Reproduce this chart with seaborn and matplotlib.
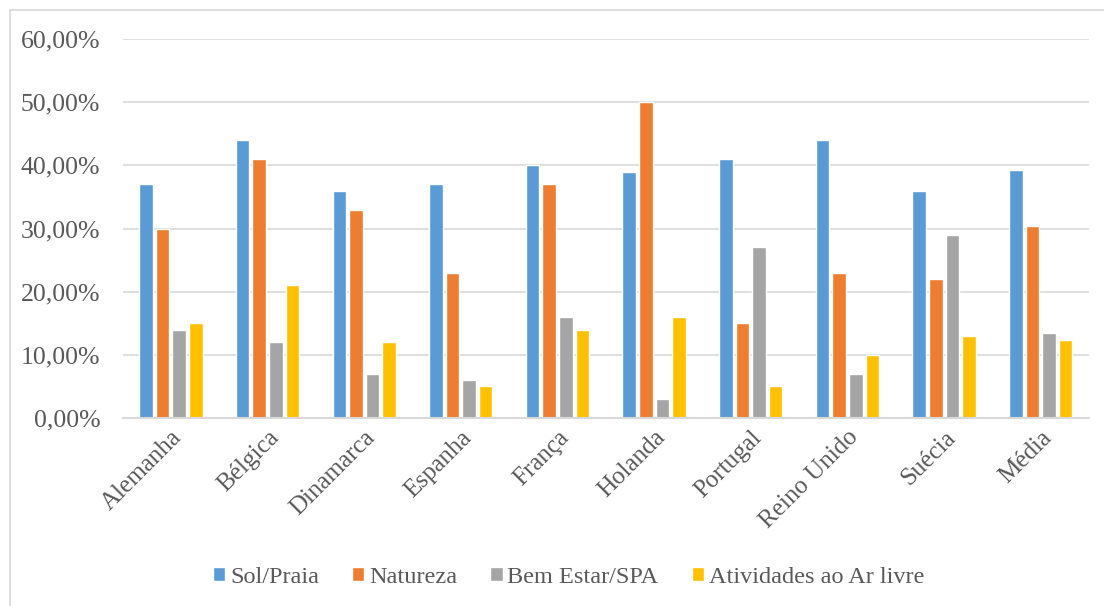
import pandas as pd
import numpy as np
import matplotlib
matplotlib.use('Agg')
import matplotlib.pyplot as plt
import seaborn as sns
from matplotlib.patches import Rectangle, Patch
from matplotlib.ticker import FuncFormatter

paises = ['Alemanha', 'Bélgica', 'Dinamarca', 'Espanha', 'França',
          'Holanda', 'Portugal', 'Reino Unido', 'Suécia', 'Média']
series = ['Sol/Praia', 'Natureza', 'Bem Estar/SPA', 'Atividades ao Ar livre']
sol_praia = [37, 44, 36, 37, 40, 39, 41, 44, 36, 39.33]
natureza = [30, 41, 33, 23, 37, 50, 15, 23, 22, 30.44]
bem_estar = [14, 12, 7, 6, 16, 3, 27, 7, 29, 13.44]
ar_livre = [15, 21, 12, 5, 14, 16, 5, 10, 13, 12.33]
cores = ['#5B9BD5', '#ED7D31', '#A5A5A5', '#FFC000']

# long format for seaborn
data = pd.DataFrame({
    'pais': paises * 4,
    'serie': np.repeat(series, len(paises)),
    'valor': sol_praia + natureza + bem_estar + ar_livre,
})

sns.set_style('white')
plt.rcParams['font.family'] = ['Liberation Serif', 'DejaVu Serif']
texto = '#595959'
fs = 17.5

fig = plt.figure(figsize=(11.04, 6.06), dpi=100)
ax = fig.add_axes([0.111, 0.3102, 0.8755, 0.6254])

sns.barplot(data=data, x='pais', y='valor', hue='serie', order=paises,
            hue_order=series, palette=cores, width=0.686, gap=0.18,
            saturation=1, legend=False, ax=ax)

ax.set_ylim(0, 60)
ax.set_xlim(-0.5, len(paises) - 0.5)
ax.set_yticks(range(0, 61, 10))
ax.yaxis.set_major_formatter(FuncFormatter(lambda v, p: f'{v:.2f}%'.replace('.', ',')))
ax.grid(axis='y', color='#D9D9D9', linewidth=1.2)
ax.set_axisbelow(True)
for s in ['top', 'right', 'left']:
    ax.spines[s].set_visible(False)
ax.spines['bottom'].set_color('#D9D9D9')
ax.spines['bottom'].set_linewidth(1.5)
ax.tick_params(axis='both', length=0, colors=texto)
ax.tick_params(axis='y', pad=16, labelsize=18.5)
ax.tick_params(axis='x', pad=6, labelsize=18)
ax.set_xlabel('')
ax.set_ylabel('')
plt.setp(ax.get_xticklabels(), rotation=45, ha='right', rotation_mode='anchor')

# legend at the bottom
handles = [Patch(facecolor=c, label=s) for c, s in zip(cores, series)]
leg = fig.legend(handles=handles, loc='center', bbox_to_anchor=(0.515, 0.047),
                 ncol=4, frameon=False, fontsize=fs, handlelength=0.5,
                 handleheight=0.5, handletextpad=0.2, columnspacing=1.36)
for t in leg.get_texts():
    t.set_color(texto)

# chart border (cut off at right and bottom like the reference)
fig.patches.append(Rectangle((10 / 1104, -0.01), 1.0, 1 - 10 / 606 + 0.01,
                             transform=fig.transFigure, fill=False,
                             edgecolor='#D9D9D9', linewidth=1.2))

fig.savefig('out.png', dpi=100)
